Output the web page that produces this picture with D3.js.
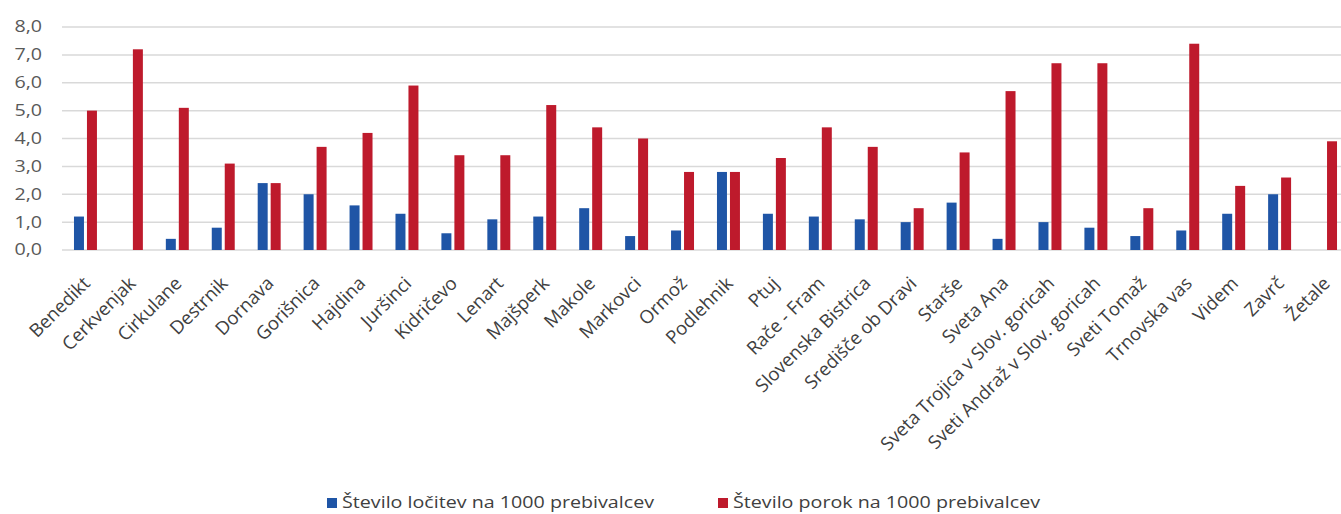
<!DOCTYPE html>
<html><head><meta charset="utf-8">
<script src="https://cdn.jsdelivr.net/npm/d3@7"></script>
<style>
html,body{margin:0;padding:0;background:#fff;}
svg{display:block;}
text{font-family:"Open Sans",Lato,sans-serif;}
</style></head><body>
<svg id="c" width="1341" height="514"></svg>
<script>
const categories = ["Benedikt","Cerkvenjak","Cirkulane","Destrnik","Dornava","Gorišnica","Hajdina","Juršinci","Kidričevo","Lenart","Majšperk","Makole","Markovci","Ormož","Podlehnik","Ptuj","Rače - Fram","Slovenska Bistrica","Središče ob Dravi","Starše","Sveta Ana","Sveta Trojica v Slov. goricah","Sveti Andraž v Slov. goricah","Sveti Tomaž","Trnovska vas","Videm","Zavrč","Žetale"];
const divorces = [1.2,0,0.4,0.8,2.4,2.0,1.6,1.3,0.6,1.1,1.2,1.5,0.5,0.7,2.8,1.3,1.2,1.1,1.0,1.7,0.4,1.0,0.8,0.5,0.7,1.3,2.0,0];
const marriages = [5.0,7.2,5.1,3.1,2.4,3.7,4.2,5.9,3.4,3.4,5.2,4.4,4.0,2.8,2.8,3.3,4.4,3.7,1.5,3.5,5.7,6.7,6.7,1.5,7.4,2.3,2.6,3.9];
const seriesNames = ["Število ločitev na 1000 prebivalcev","Število porok na 1000 prebivalcev"];
const seriesColors = ["#1f55a6","#be1a2c"];
const yTicks = [0,1,2,3,4,5,6,7,8];

const SX = 1.27; // horizontal stretch of the source text
const svg = d3.select("#c");
const x = d3.scaleBand().domain(categories).range([62.5, 1348.5]).paddingInner(0.5).paddingOuter(0.25);
const x1 = d3.scaleBand().domain([0,1]).range([0, x.bandwidth()]).paddingInner(0.2308);
const y = d3.scaleLinear().domain([0,8]).range([250,27]);
const fmt = v => d3.format(".1f")(v).replace(".", ",");

// gridlines
svg.append("g").selectAll("line").data(yTicks).join("line")
  .attr("x1", 62).attr("x2", 1341)
  .attr("y1", d => y(d)).attr("y2", d => y(d))
  .attr("stroke", "#d9d9d9").attr("stroke-width", 1.5);

// y axis labels
const yAxis = d3.axisLeft(y).tickValues(yTicks).tickFormat(fmt).tickSize(0).tickPadding(0);
const ya = svg.append("g").attr("transform", "translate(42,0)").call(yAxis);
ya.select(".domain").remove();
ya.selectAll("text").attr("font-size", 15.5).attr("fill", "#595959")
  .attr("font-family", "'Open Sans',Lato,sans-serif")
  .attr("transform", `scale(${SX},1)`);

// bars
const data = [divorces, marriages];
data.forEach((vals, si) => {
  svg.append("g").selectAll("rect").data(categories).join("rect")
    .attr("x", (c) => x(c) + x1(si))
    .attr("width", x1.bandwidth())
    .attr("y", (c, i) => y(vals[i]))
    .attr("height", (c, i) => y(0) - y(vals[i]))
    .attr("fill", seriesColors[si]);
});

// x labels
const xAxis = d3.axisBottom(x).tickSize(0).tickPadding(0);
const xa = svg.append("g").call(xAxis);
xa.select(".domain").remove();
xa.selectAll(".tick").attr("transform", d => `translate(${x(d) + x.bandwidth()/2 + 1},280)`);
xa.selectAll("text")
  .attr("font-size", 18.5).attr("fill", "#404040").attr("font-family", "'Open Sans',Lato,sans-serif")
  .attr("text-anchor", "end").attr("y", 0).attr("dy", "0.35em")
  .attr("transform", "rotate(-45)");

// legend
const legendX = [327, 718];
const lg = svg.append("g");
seriesNames.forEach((n, i) => {
  lg.append("rect").attr("x", legendX[i]).attr("y", 498).attr("width", 10).attr("height", 10).attr("fill", seriesColors[i]);
  lg.append("g").attr("transform", `translate(${legendX[i] + 15},503) scale(${SX},1)`)
    .append("text").attr("dy", "0.35em")
    .attr("font-size", 15.5).attr("fill", "#404040").text(n);
});
</script>
</body></html>
